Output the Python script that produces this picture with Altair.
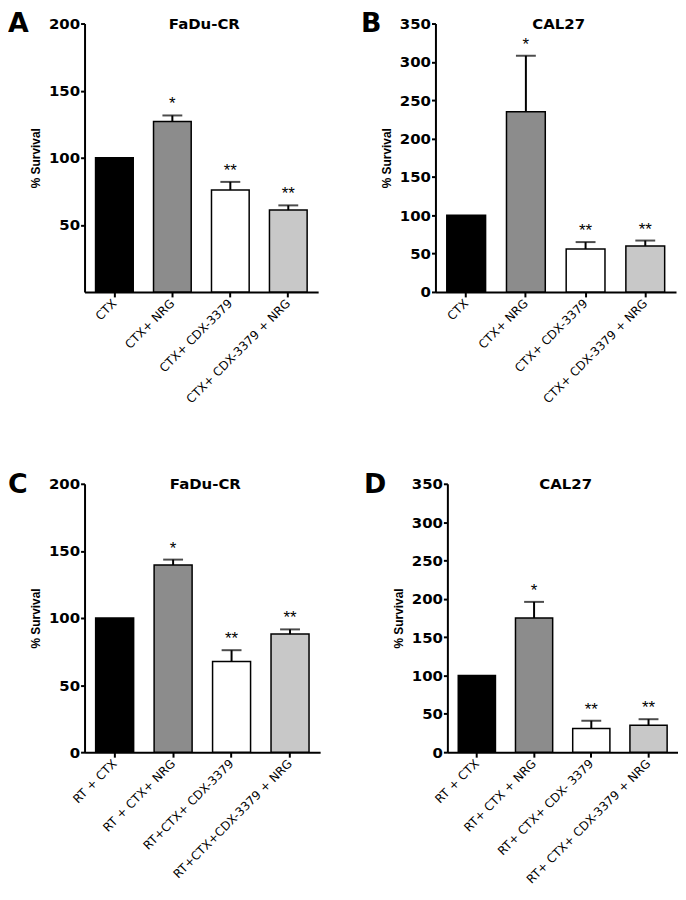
import altair as alt
import pandas as pd

letters = ["A", "B", "C", "D"]
titles = ["FaDu-CR", "CAL27", "FaDu-CR", "CAL27"]

labels_A = ["CTX", "CTX+ NRG", "CTX+ CDX-3379", "CTX+ CDX-3379 + NRG"]
labels_B = ["CTX", "CTX+ NRG", "CTX+ CDX-3379", "CTX+ CDX-3379 + NRG"]
labels_C = ["RT + CTX", "RT + CTX+ NRG", "RT+CTX+ CDX-3379", "RT+CTX+CDX-3379 + NRG"]
labels_D = ["RT + CTX", "RT+ CTX + NRG", "RT+ CTX+ CDX- 3379", "RT+ CTX+ CDX-3379 + NRG"]

values_A = [100, 127, 76, 61]
errors_A = [0, 4.5, 6, 3.5]
values_B = [100, 235, 56, 60]
errors_B = [0, 73, 9, 7]
values_C = [100, 139.5, 67.5, 88]
errors_C = [0, 4, 8.5, 3.5]
values_D = [100, 175, 31, 35]
errors_D = [0, 21, 10, 8]

stars = ["", "*", "**", "**"]
bar_colors = ["#000000", "#8c8c8c", "#ffffff", "#c8c8c8"]

ymax = [200, 350, 200, 350]
yticks = [[50, 100, 150, 200],
          [0, 50, 100, 150, 200, 250, 300, 350],
          [0, 50, 100, 150, 200],
          [0, 50, 100, 150, 200, 250, 300, 350]]

widths = [235, 242, 237, 232]
letter_dx = [-77, -75, -77, -84]
H = 270
FONT = "Liberation Sans"
BOLD = "DejaVu Sans"


def panel(i, cats, vals, errs):
    W = widths[i]
    df = pd.DataFrame({
        "cat": cats,
        "val": vals,
        "err": errs,
        "top": [v + e for v, e in zip(vals, errs)],
        "star": stars,
        "color": bar_colors,
    })
    xaxis = alt.Axis(title=None, labelAngle=-45, labelAlign="right",
                     labelBaseline="middle", labelFontSize=12,
                     labelFont=BOLD, labelColor="black",
                     labelPadding=4, tickSize=5, tickWidth=2,
                     tickColor="black", domainColor="black",
                     domainWidth=2, labelLimit=300)
    xscale = alt.Scale(paddingInner=0.35, paddingOuter=0.19)
    yscale = alt.Scale(domain=[0, ymax[i]], nice=False, zero=True)
    yaxis = alt.Axis(values=yticks[i], tickCount=len(yticks[i]),
                     title="% Survival", titleFontSize=12,
                     titleFont=FONT, titleFontWeight="bold", titleColor="black",
                     titlePadding=6, labelFontSize=15, labelFont=BOLD,
                     labelFontWeight="bold", labelColor="black", labelPadding=1,
                     labelOverlap=False,
                     tickSize=4, tickWidth=2, tickColor="black",
                     domainColor="black", domainWidth=2, grid=False)

    def X():
        return alt.X("cat:N", sort=cats, scale=xscale, axis=xaxis)

    base = alt.Chart(df)
    bars = base.mark_bar(stroke="black", strokeWidth=1.5).encode(
        x=X(),
        y=alt.Y("val:Q", scale=yscale, axis=yaxis),
        fill=alt.Fill("color:N", scale=None),
    )
    eb = base.transform_filter("datum.err > 0")
    rules = eb.mark_rule(color="black", strokeWidth=2).encode(
        x=X(), y=alt.Y("val:Q", scale=yscale, axis=yaxis), y2="top:Q")
    caps = eb.mark_tick(color="black", thickness=2, size=20).encode(
        x=X(), y=alt.Y("top:Q", scale=yscale, axis=yaxis))
    txt = eb.mark_text(baseline="bottom", dy=-2, fontSize=17, font=FONT,
                       color="black").encode(
        x=X(), y=alt.Y("top:Q", scale=yscale, axis=yaxis),
        text="star:N")
    head = pd.DataFrame({"l": [letters[i]], "t": [titles[i]]})
    letter = alt.Chart(head).mark_text(
        align="left", baseline="top", fontSize=27, fontWeight="bold",
        font=BOLD, color="black").encode(
        x=alt.value(letter_dx[i]), y=alt.value(-12), text="l:N")
    title = alt.Chart(head).mark_text(
        align="center", baseline="middle", fontSize=15, fontWeight="bold",
        font=BOLD, color="black").encode(
        x=alt.value(W / 2 + 3), y=alt.value(0), text="t:N")
    return alt.layer(bars, rules, caps, txt, letter, title).properties(
        width=W, height=H)


top = alt.hconcat(panel(0, labels_A, values_A, errors_A),
                  panel(1, labels_B, values_B, errors_B), spacing=43)
bottom = alt.hconcat(panel(2, labels_C, values_C, errors_C),
                     panel(3, labels_D, values_D, errors_D), spacing=44)
chart = alt.vconcat(top, bottom, spacing=66).properties(padding=0).configure_view(
    stroke=None)

chart.save("out.html", embed_options={"renderer": "svg", "actions": False})
